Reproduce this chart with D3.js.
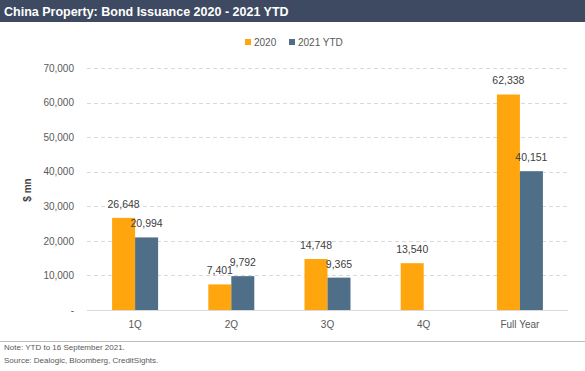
<!DOCTYPE html>
<html>
<head>
<meta charset="utf-8">
<script src="https://cdn.jsdelivr.net/npm/d3@7"></script>
<style>
  body { margin: 0; background: #fff; }
  svg { display: block; font-family: Arial, "Liberation Sans", sans-serif; }
</style>
</head>
<body>
<div id="chart"></div>
<script>
var categories = ["1Q", "2Q", "3Q", "4Q", "Full Year"];
var series = ["2020", "2021 YTD"];
var values2020 = [26648, 7401, 14748, 13540, 62338];
var values2021 = [20994, 9792, 9365, null, 40151];
var yTicks = [0, 10000, 20000, 30000, 40000, 50000, 60000, 70000];
var notes = ["Note: YTD to 16 September 2021.", "Source: Dealogic, Bloomberg, CreditSights."];

var width = 585, height = 371;
var colors = {"2020": "#ffa50d", "2021 YTD": "#4f6f89"};
var margin = {top: 68, left: 87, right: 17, bottom: 61};

var svg = d3.select("#chart").append("svg")
    .attr("width", width)
    .attr("height", height);

// title bar
svg.append("rect").attr("x", 0).attr("y", 0).attr("width", width).attr("height", 22).attr("fill", "#3d4a61");
svg.append("text").attr("x", 4).attr("y", 15.5)
    .attr("fill", "#fff").attr("font-size", 12.5).attr("font-weight", "bold")
    .text("China Property: Bond Issuance 2020 - 2021 YTD");

var x = d3.scaleBand().domain(categories).range([margin.left, width - margin.right]).paddingInner(0).paddingOuter(0);
var y = d3.scaleLinear().domain([0, 70000]).range([height - margin.bottom, margin.top]);
var bw = 23;

// gridlines
svg.append("g").selectAll("line").data(yTicks.filter(function(d){ return d > 0; })).enter().append("line")
    .attr("x1", margin.left).attr("x2", width - margin.right)
    .attr("y1", function(d){ return Math.round(y(d)) + 0.5; })
    .attr("y2", function(d){ return Math.round(y(d)) + 0.5; })
    .attr("stroke", "#d9d9d9").attr("stroke-dasharray", "4,3");

// y axis labels
var yAxis = d3.axisLeft(y).tickValues(yTicks).tickSize(0).tickPadding(13)
    .tickFormat(function(d){ return d === 0 ? "-" : d3.format(",")(d); });
var yg = svg.append("g").attr("transform", "translate(" + margin.left + ",0)").call(yAxis);
yg.select(".domain").remove();
yg.selectAll("text").attr("fill", "#595959").attr("font-size", 10).attr("font-family", "Arial, 'Liberation Sans', sans-serif");

svg.append("text")
    .attr("transform", "translate(31," + 190 + ") rotate(-90)")
    .attr("text-anchor", "middle").attr("fill", "#404040")
    .attr("font-size", 10).attr("font-weight", "bold")
    .text("$ mn");

// bars
var barData = [];
categories.forEach(function(c, i){
    barData.push({c: c, s: "2020", v: values2020[i], off: -bw});
    if (values2021[i] !== null) barData.push({c: c, s: "2021 YTD", v: values2021[i], off: 0});
});
svg.append("g").selectAll("rect").data(barData).enter().append("rect")
    .attr("x", function(d){ return x(d.c) + x.bandwidth() / 2 + d.off; })
    .attr("y", function(d){ return y(d.v); })
    .attr("width", bw)
    .attr("height", function(d){ return y(0) - y(d.v); })
    .attr("fill", function(d){ return colors[d.s]; });

svg.append("g").selectAll("text").data(barData).enter().append("text")
    .attr("x", function(d){ return x(d.c) + x.bandwidth() / 2 + d.off + bw / 2; })
    .attr("y", function(d){ return y(d.v) - 10; })
    .attr("text-anchor", "middle").attr("fill", "#404040").attr("font-size", 10.5)
    .text(function(d){ return d3.format(",")(d.v); });

// x axis
svg.append("line").attr("x1", margin.left).attr("x2", width - margin.right)
    .attr("y1", y(0) + 0.5).attr("y2", y(0) + 0.5).attr("stroke", "#d9d9d9");
var xAxis = d3.axisBottom(x).tickSize(0).tickPadding(11);
var xg = svg.append("g").attr("transform", "translate(0," + y(0) + ")").call(xAxis);
xg.select(".domain").remove();
xg.selectAll("text").attr("fill", "#595959").attr("font-size", 10).attr("font-family", "Arial, 'Liberation Sans', sans-serif");

// legend
var legend = svg.append("g").selectAll("g").data(series).enter().append("g")
    .attr("transform", function(d, i){ return "translate(" + (245 + i * 44) + ",39)"; });
legend.append("rect").attr("width", 6).attr("height", 6).attr("fill", function(d){ return colors[d]; });
legend.append("text").attr("x", 9).attr("y", 7).attr("font-size", 10).attr("fill", "#595959").text(function(d){ return d; });

// footer
svg.append("line").attr("x1", 0).attr("x2", width).attr("y1", 341.5).attr("y2", 341.5).attr("stroke", "#bfbfbf");
svg.append("g").selectAll("text").data(notes).enter().append("text")
    .attr("x", 4).attr("y", function(d, i){ return 350 + i * 13; })
    .attr("font-size", 8).attr("fill", "#595959")
    .text(function(d){ return d; });
</script>
</body>
</html>
